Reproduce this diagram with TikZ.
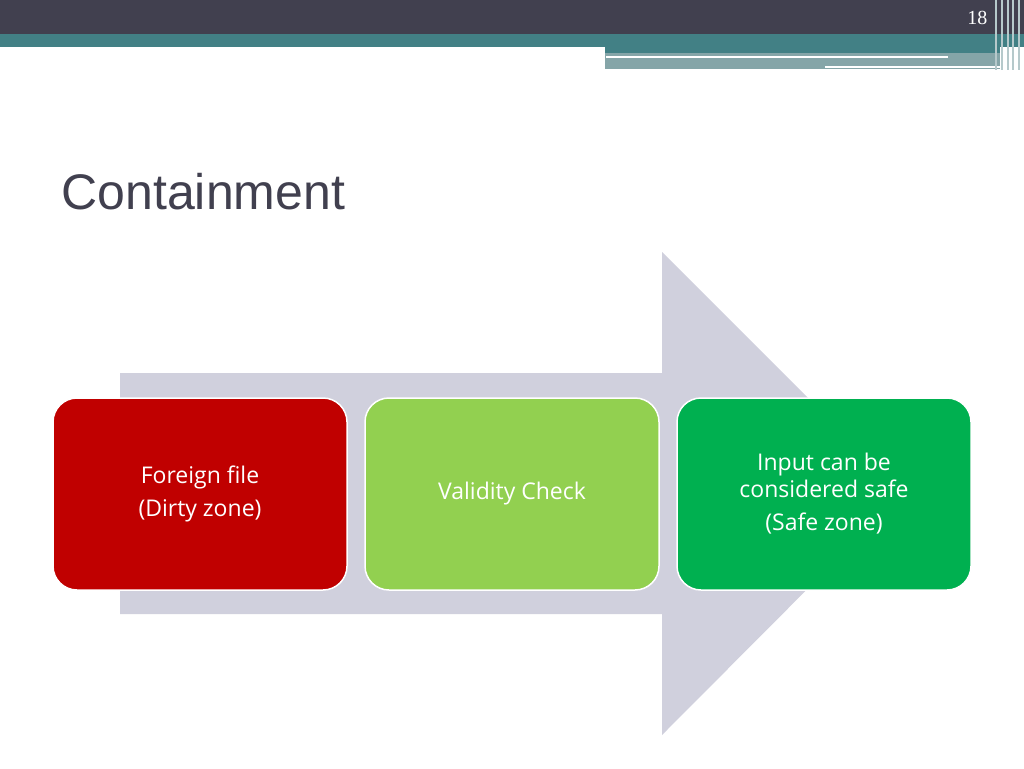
\documentclass[tikz,border=0pt]{standalone}
\usepackage{fontspec}
\setmainfont{Open Sans}
\newfontfamily\titlefont{Liberation Sans}
\newfontfamily\numfont{Liberation Serif}
\definecolor{headdark}{HTML}{41404F}
\definecolor{headteal}{HTML}{428085}
\definecolor{headgrey}{HTML}{85A5A8}
\definecolor{arrowgrey}{HTML}{D0D0DD}
\definecolor{dirtyred}{HTML}{C00000}
\definecolor{checkgreen}{HTML}{92D050}
\definecolor{safegreen}{HTML}{00B050}
\tikzset{
    stage/.style={draw=white, line width=1.5pt, rounded corners=24pt,
        minimum width=294pt, minimum height=192pt, text=white,
        align=center, font=\fontsize{23}{27}\selectfont},
}
\begin{document}
\begin{tikzpicture}[x=1pt, y=-1pt]
\useasboundingbox (0,0) rectangle (1024,768);
\fill[white] (0,0) rectangle (1024,768);
% header bars
\fill[headdark] (0,0) rectangle (1024,34);
\fill[headteal] (0,34) rectangle (1024,47);
\fill[headteal] (605,47) rectangle (1000,53);
\fill[headgrey] (605,53) rectangle (1000,69);
\draw[white, line width=2pt] (606,57) -- (948,57);
\draw[white, line width=2pt] (825,67) -- (1005,67);
\foreach \x in {996,1002,1008,1013,1019}
    \draw[headgrey!60, line width=1.2pt] (\x,0) -- (\x,70);
\node[anchor=east, text=white, font=\numfont\fontsize{20}{22}\selectfont] (num) at (991,18) {18};
% title
\node[anchor=west, text=headdark, font=\titlefont\fontsize{50}{56}\selectfont] (title) at (58,192) {Containment};
% big arrow
\fill[arrowgrey] (120,373) -- (662,373) -- (662,252) -- (903,493)
    -- (662,735) -- (662,614) -- (120,614) -- cycle;
% stages
\node[stage, fill=dirtyred] (dirty) at (200,494) {Foreign file\\[6pt](Dirty zone)};
\node[stage, fill=checkgreen] (check) at (512,494) {Validity Check};
\node[stage, fill=safegreen] (safe) at (824,494) {Input can be\\considered safe\\[6pt](Safe zone)};
\end{tikzpicture}
\end{document}
